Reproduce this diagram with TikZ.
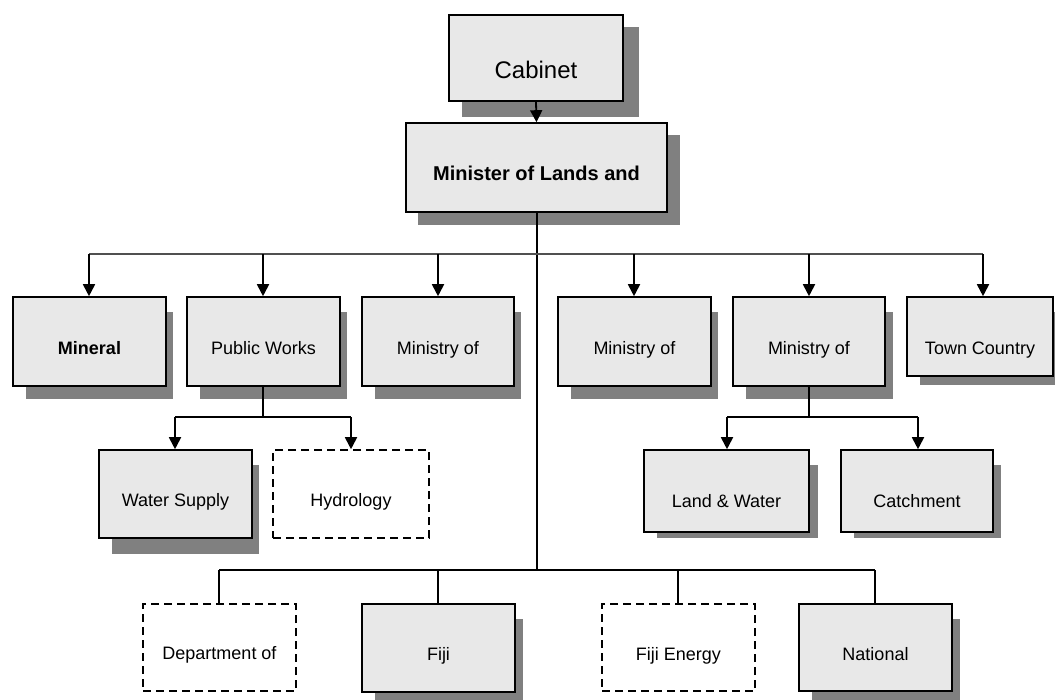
\documentclass[tikz,border=0pt]{standalone}
\usepackage{fontspec}
\setmainfont{Liberation Sans}
\usetikzlibrary{arrows.meta,calc,backgrounds}
\definecolor{boxfill}{HTML}{E8E8E8}
\definecolor{shadowc}{HTML}{808080}
\definecolor{busc}{HTML}{505050}
\newcommand{\boxshadow}[5]{\fill[shadowc] ($(#1.north west)+(#2,#3)$) rectangle ($(#1.south east)+(#4,#5)$);}
\begin{document}
\begin{tikzpicture}[x=1pt,y=-1pt,
  orgbox/.style={draw=black,line width=1.6pt,fill=boxfill,inner sep=0pt,font=\fontsize{18}{20}\selectfont,text height=26pt,text depth=0pt},
  dashbox/.style={draw=black,line width=1.6pt,dash pattern=on 8pt off 5pt,inner sep=0pt,font=\fontsize{18}{20}\selectfont,text height=26pt,text depth=0pt},
  tdown/.style={text height=#1,text depth=0pt},
  conn/.style={line width=1.8pt,black},
  arr/.style={conn,-{Triangle[width=12pt,length=12pt]}},
  bus/.style={line width=2.4pt,busc}]
\useasboundingbox (0,0) rectangle (1055,699);

% top
\node[orgbox,tdown=41pt,minimum width=174pt,minimum height=86pt,font=\fontsize{24}{26}\selectfont] (cab) at (536,58) {Cabinet};
\node[orgbox,tdown=25pt,minimum width=261pt,minimum height=89pt,font=\fontsize{20}{22}\selectfont\bfseries] (min) at (536.5,167.5) {Minister of Lands and};

% first row
\node[orgbox,minimum width=153pt,minimum height=89pt,font=\fontsize{18}{20}\selectfont\bfseries] (mrl) at (89.5,341.5) {Mineral};
\node[orgbox,minimum width=153pt,minimum height=89pt] (pw) at (263.5,341.5) {Public Works};
\node[orgbox,minimum width=152pt,minimum height=89pt] (m1) at (438,341.5) {Ministry of};
\node[orgbox,minimum width=153pt,minimum height=89pt] (m2) at (634.5,341.5) {Ministry of};
\node[orgbox,minimum width=152pt,minimum height=89pt] (m3) at (809,341.5) {Ministry of};
\node[orgbox,tdown=36pt,minimum width=146pt,minimum height=79pt] (tc) at (980,336.5) {Town Country};

% second row
\node[orgbox,tdown=25pt,minimum width=153pt,minimum height=88pt] (ws) at (175.5,494) {Water Supply};
\node[dashbox,tdown=25pt,minimum width=156pt,minimum height=88pt] (hy) at (351,494) {Hydrology};
\node[orgbox,tdown=33pt,minimum width=165pt,minimum height=82pt] (lw) at (726.5,491) {Land \& Water};
\node[orgbox,tdown=33pt,minimum width=152pt,minimum height=82pt] (ca) at (917,491) {Catchment};

% bottom row
\node[dashbox,tdown=24pt,minimum width=153pt,minimum height=87pt] (dep) at (219.5,647.5) {Department of};
\node[orgbox,tdown=25pt,minimum width=153pt,minimum height=88pt] (fj) at (438.5,648) {Fiji};
\node[dashbox,minimum width=153pt,minimum height=87pt] (fe) at (678.5,647.5) {Fiji Energy};
\node[orgbox,minimum width=153pt,minimum height=87pt] (nat) at (875.5,647.5) {National};

% shadows
\begin{scope}[on background layer]
\boxshadow{cab}{14}{13}{15}{15}
\boxshadow{min}{13}{13}{12}{12}
\boxshadow{mrl}{14}{16}{6}{12}
\boxshadow{pw}{14}{16}{6}{12}
\boxshadow{m1}{14}{16}{6}{12}
\boxshadow{m2}{14}{16}{6}{12}
\boxshadow{m3}{14}{16}{7}{12}
\boxshadow{tc}{14}{16}{6}{8}
\boxshadow{ws}{14}{16}{6}{15}
\boxshadow{lw}{14}{16}{8}{5}
\boxshadow{ca}{14}{16}{7}{5}
\boxshadow{fj}{14}{16}{7}{15}
\boxshadow{nat}{14}{16}{7}{15}
\end{scope}

% coordinates
\coordinate (bm) at (537,254);
\coordinate (b1) at (89,254);
\coordinate (b2) at (263,254);
\coordinate (b3) at (438,254);
\coordinate (b4) at (634,254);
\coordinate (b5) at (809,254);
\coordinate (b6) at (983,254);
\coordinate (lb) at (537,570);
\coordinate (l1) at (219,570);
\coordinate (l2) at (438,570);
\coordinate (l3) at (678,570);
\coordinate (l4) at (875,570);
\coordinate (pwj) at (263,417);
\coordinate (pwl) at (175,417);
\coordinate (pwr) at (351,417);
\coordinate (m3j) at (809,417);
\coordinate (m3l) at (727,417);
\coordinate (m3r) at (918,417);

% connectors
\draw[arr] (cab.south) -- (min.north);
\draw[conn,line width=2.4pt] (min.south -| bm) -- (bm);
\draw[conn,line width=1.4pt] (bm) -- (lb);
\draw[bus] (b1) -- (b6);
\draw[arr] (b1) -- (b1 |- mrl.north);
\draw[arr] (b2) -- (b2 |- pw.north);
\draw[arr] (b3) -- (b3 |- m1.north);
\draw[arr] (b4) -- (b4 |- m2.north);
\draw[arr] (b5) -- (b5 |- m3.north);
\draw[arr] (b6) -- (b6 |- tc.north);

\draw[conn] (pw.south -| pwj) -- (pwj);
\draw[conn] (pwl) -- (pwr);
\draw[arr] (pwl) -- (pwl |- ws.north);
\draw[arr] (pwr) -- (pwr |- hy.north);

\draw[conn] (m3.south -| m3j) -- (m3j);
\draw[conn] (m3l) -- (m3r);
\draw[arr] (m3l) -- (m3l |- lw.north);
\draw[arr] (m3r) -- (m3r |- ca.north);

\draw[conn] (l1) -- (l4);
\draw[conn] (l1) -- (l1 |- dep.north);
\draw[conn] (l2) -- (l2 |- fj.north);
\draw[conn] (l3) -- (l3 |- fe.north);
\draw[conn] (l4) -- (l4 |- nat.north);
\end{tikzpicture}
\end{document}
